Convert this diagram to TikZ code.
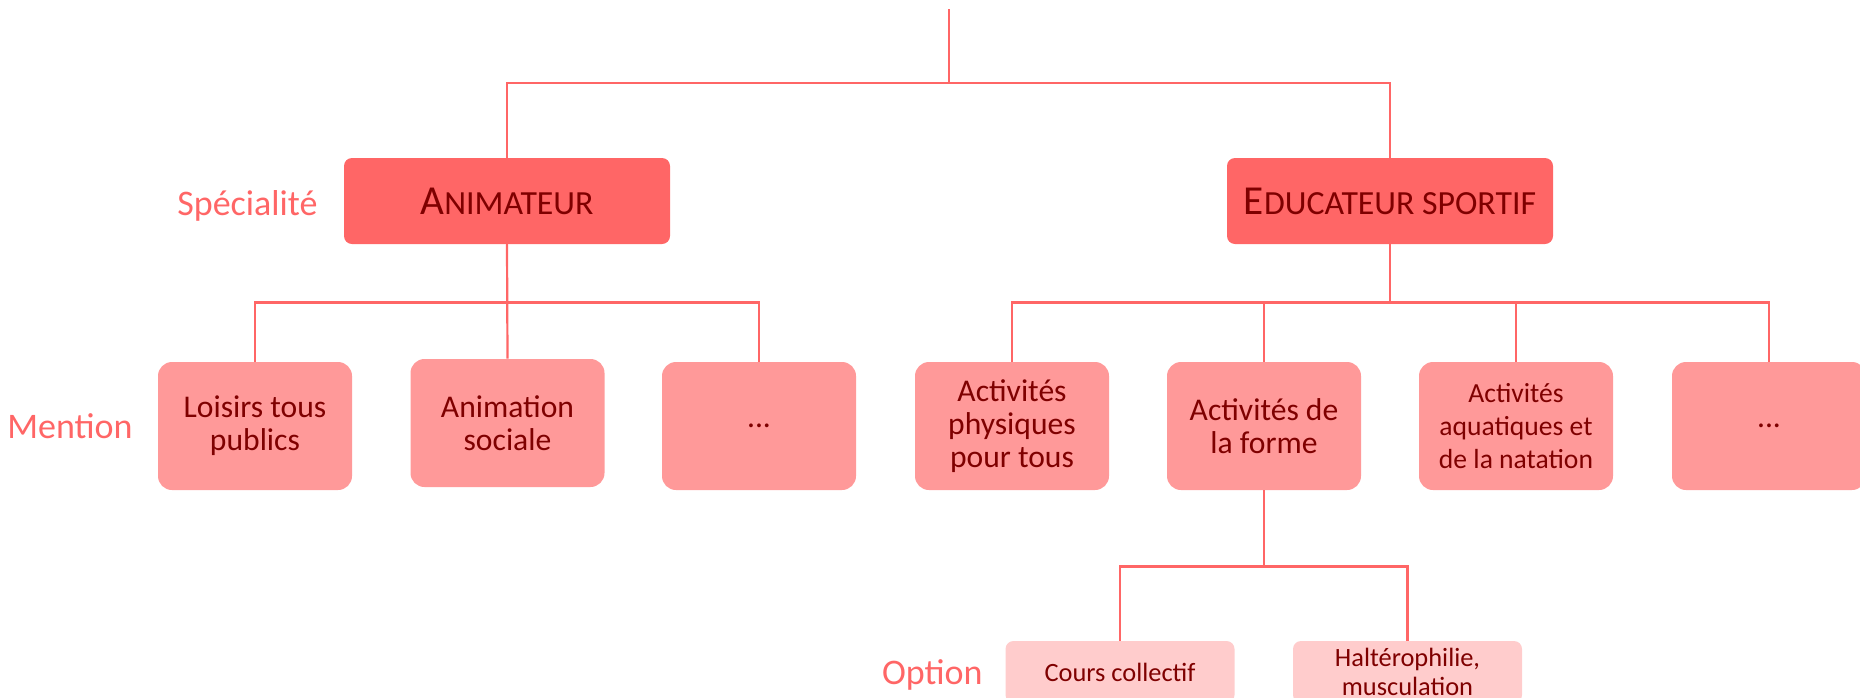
\documentclass[tikz,border=0pt]{standalone}
\usepackage{fontspec}
\setmainfont{Carlito}
\definecolor{cone}{HTML}{FF6666}
\definecolor{ctwo}{HTML}{FF9999}
\definecolor{cthree}{HTML}{FFCCCC}
\definecolor{ctext}{HTML}{7F0000}
\definecolor{cline}{HTML}{FF6666}
\newcommand{\mybigcap}[1]{{\fontsize{20.6}{24}\selectfont #1}}
\newcommand{\mysmallcap}[1]{{\fontsize{16.9}{24}\selectfont #1}}
\begin{document}
\begin{tikzpicture}[x=0.5pt,y=-0.5pt,
  lvlone/.style={fill=cone, rounded corners=4pt, minimum width=163pt, minimum height=43pt, inner sep=0pt, text=ctext},
  lvltwo/.style={fill=ctwo, rounded corners=7pt, minimum width=97pt, minimum height=64pt, inner sep=0pt, align=center, text=ctext, font=\fontsize{15.8}{16.6}\selectfont},
  lvltwosmall/.style={lvltwo, font=\fontsize{13.8}{16.3}\selectfont},
  lvlthree/.style={fill=cthree, rounded corners=4pt, minimum width=114.5pt, minimum height=31pt, inner sep=0pt, align=center, text=ctext, font=\fontsize{13.2}{14.5}\selectfont},
  link/.style={draw=cline, line width=1.1pt},
  lab/.style={text=cline, font=\fontsize{18}{20}\selectfont, anchor=base east, inner sep=0pt}]
\useasboundingbox (0,0) rectangle (1860,697);

% level 1
\node[lvlone] (anim) at (507,201) {\mybigcap{A}\mysmallcap{NIMATEUR}};
\node[lvlone] (edu) at (1390,201) {\mybigcap{E}\mysmallcap{DUCATEUR SPORTIF}};

% level 2
\node[lvltwo] (loisirs) at (255,426) {Loisirs tous\\publics};
\node[lvltwo] (asoc) at (507.5,423) {Animation\\sociale};
\node[lvltwo] (dotsA) at (759,426) {...};
\node[lvltwo] (phys) at (1012,426) {Activités\\physiques\\pour tous};
\node[lvltwo] (forme) at (1264,426) {Activités de\\la forme};
\node[lvltwosmall] (aqua) at (1516,426) {Activités\\aquatiques et\\de la natation};
\node[lvltwo] (dotsB) at (1769,426) {...};

% level 3
\node[lvlthree] (cours) at (1120,672) {Cours collectif};
\node[lvlthree] (halt) at (1407.5,672) {Haltérophilie,\\musculation};

% labels
\node[lab] (lspec) at (318,215) {Spécialité};
\node[lab] (lment) at (133,438) {Mention};
\node[lab] (lopt) at (983,684) {Option};

% connectors
\coordinate (root) at (949,9);
\draw[link] (root) -- ++(0,74) -| (anim.north);
\draw[link] (root) -- ++(0,74) -| (edu.north);

\draw[link] (anim.south) -- ++(0,58) -| (loisirs.north);
\draw[link] (anim.south) -- (asoc.north);
\draw[link] (anim.south) -- ++(0,58) -| (dotsA.north);

\draw[link] (edu.south) -- ++(0,58) -| (phys.north);
\draw[link] (edu.south) -- ++(0,58) -| (forme.north);
\draw[link] (edu.south) -- ++(0,58) -| (aqua.north);
\draw[link] (edu.south) -- ++(0,58) -| (dotsB.north);

\draw[link] (forme.south) -- ++(0,76) -| (cours.north);
\draw[link] (forme.south) -- ++(0,76) -| (halt.north);
\end{tikzpicture}
\end{document}
